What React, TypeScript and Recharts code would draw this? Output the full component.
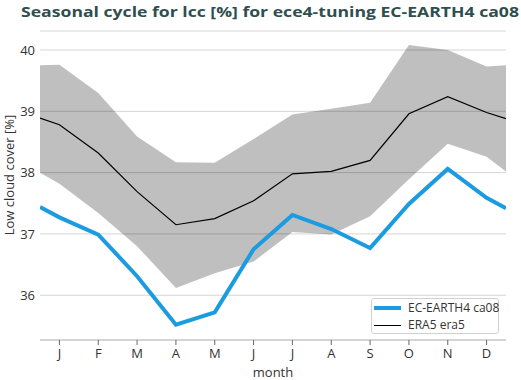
import React from 'react';
import { ComposedChart, Line, Area, XAxis, YAxis, CartesianGrid, Label } from 'recharts';

const positions = [0.5, 1, 2, 3, 4, 5, 6, 7, 8, 9, 10, 11, 12, 12.5];
const monthTicks = [1, 2, 3, 4, 5, 6, 7, 8, 9, 10, 11, 12];
const monthLabels = ['J', 'F', 'M', 'A', 'M', 'J', 'J', 'A', 'S', 'O', 'N', 'D'];
const yTicks = [36, 37, 38, 39, 40];

const ecEarth = [37.44, 37.27, 36.99, 36.31, 35.52, 35.72, 36.75, 37.31, 37.08, 36.77, 37.49, 38.06, 37.59, 37.42];
const era5 = [38.89, 38.78, 38.32, 37.69, 37.15, 37.25, 37.54, 37.98, 38.02, 38.2, 38.96, 39.24, 38.98, 38.88];
const bandHigh = [39.75, 39.76, 39.3, 38.59, 38.17, 38.16, 38.55, 38.95, 39.04, 39.14, 40.08, 40.0, 39.73, 39.75];
const bandLow = [38.0, 37.82, 37.34, 36.8, 36.12, 36.36, 36.55, 37.03, 36.99, 37.29, 37.89, 38.47, 38.26, 38.02];

const data = positions.map((m, i) => ({
  m,
  ece: ecEarth[i],
  era: era5[i],
  band: [bandLow[i], bandHigh[i]],
}));

const FONT = '"Open Sans", sans-serif';
const TXT = '#333333';

export default function App() {
  return (
    <div style={{ position: 'absolute', left: 0, top: 0, width: 521, height: 380, background: '#fff', fontFamily: FONT }}>
      <ComposedChart width={521} height={380} data={data} margin={{ top: 31, right: 15, left: 0, bottom: 0 }}>
        <CartesianGrid horizontal={true} vertical={false} stroke="#d4d4d4" strokeWidth={1} />
        <XAxis
          dataKey="m"
          type="number"
          domain={[0.5, 12.5]}
          ticks={monthTicks}
          tickFormatter={(v: number) => monthLabels[v - 1]}
          height={40}
          axisLine={{ stroke: '#cccccc', strokeWidth: 1.5 }}
          tickLine={{ stroke: '#666666' }}
          tickSize={5}
          tickMargin={4}
          tick={{ fill: TXT, fontSize: 13, fontFamily: FONT }}
          allowDataOverflow
        >
          <Label value="month" position="insideBottom" offset={3} fill={TXT} fontSize={13} fontFamily={FONT} />
        </XAxis>
        <YAxis
          type="number"
          domain={[35.27, 40.31]}
          ticks={yTicks}
          width={40}
          axisLine={false}
          tickLine={false}
          tickSize={0}
          tickMargin={5}
          tick={{ fill: TXT, fontSize: 13, fontFamily: FONT }}
          allowDataOverflow
        />
        <Area type="linear" dataKey="band" stroke="none" fill="#000000" fillOpacity={0.25} isAnimationActive={false} />
        <Line type="linear" dataKey="ece" stroke="#1b9be0" strokeWidth={4} dot={false} isAnimationActive={false} />
        <Line type="linear" dataKey="era" stroke="#000000" strokeWidth={1.2} dot={false} isAnimationActive={false} />
      </ComposedChart>
      <svg width={521} height={380} style={{ position: 'absolute', left: 0, top: 0, pointerEvents: 'none' }}>
        <text x={21} y={17} fill="#2f4f4f" fontFamily={FONT} fontWeight={700} fontSize={14.5} textLength={498} lengthAdjust="spacingAndGlyphs">
          Seasonal cycle for lcc [%] for ece4-tuning EC-EARTH4 ca08
        </text>
        <text
          x={0}
          y={0}
          transform="translate(13.5,175) rotate(-90)"
          textAnchor="middle"
          fill={TXT}
          fontFamily={FONT}
          fontSize={13}
        >
          Low cloud cover [%]
        </text>
      </svg>
      <div
        style={{
          position: 'absolute',
          left: 371,
          top: 298,
          width: 126,
          height: 34,
          border: '1px solid #d0d0d0',
          borderRadius: 3,
          background: 'rgba(255,255,255,0.85)',
          fontFamily: FONT,
          fontSize: 12,
          color: TXT,
        }}
      >
        <div style={{ position: 'absolute', left: 2, top: 7, width: 27, height: 4, background: '#1b9be0' }} />
        <div style={{ position: 'absolute', left: 36, top: 0, lineHeight: '18px', whiteSpace: 'nowrap' }}>EC-EARTH4 ca08</div>
        <div style={{ position: 'absolute', left: 2, top: 25.5, width: 27, height: 1.2, background: '#000' }} />
        <div style={{ position: 'absolute', left: 36, top: 17, lineHeight: '18px', whiteSpace: 'nowrap' }}>ERA5 era5</div>
      </div>
    </div>
  );
}
